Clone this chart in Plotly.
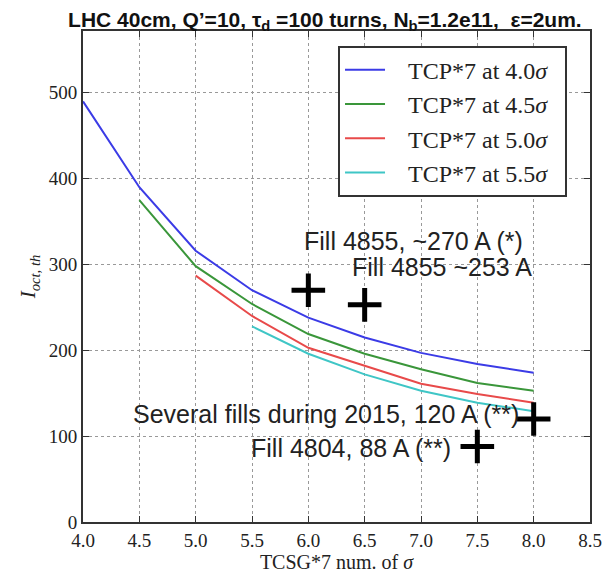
import plotly.graph_objects as go

# TCSG*7 opening (sigma) for each series
x_40 = [4.0, 4.5, 5.0, 5.5, 6.0, 6.5, 7.0, 7.5, 8.0]
y_40 = [490, 390, 316, 270, 238, 215, 197, 184, 174]
x_45 = [4.5, 5.0, 5.5, 6.0, 6.5, 7.0, 7.5, 8.0]
y_45 = [375, 298, 254, 219, 196, 178, 162, 153]
x_50 = [5.0, 5.5, 6.0, 6.5, 7.0, 7.5, 8.0]
y_50 = [287, 240, 203, 182, 161, 149, 139]
x_55 = [5.5, 6.0, 6.5, 7.0, 7.5, 8.0]
y_55 = [228, 196, 172, 153, 139, 129]

series_names = ["TCP*7 at 4.0<i>σ</i>", "TCP*7 at 4.5<i>σ</i>",
                "TCP*7 at 5.0<i>σ</i>", "TCP*7 at 5.5<i>σ</i>"]
series_colors = ["#3b3be6", "#3a963a", "#e84a4a", "#3fc6c6"]

# measured points
meas_x = [6.0, 6.5, 8.0, 7.5]
meas_y = [270, 253, 120, 88]

# annotation labels (text, right edge x, centre y)
ann_text = ["Fill 4855, ~270 A (*)", "Fill 4855 ~253 A",
            "Several fills during 2015, 120 A (**)", "Fill 4804, 88 A (**)"]
ann_x = [7.92, 8.0, 7.89, 7.28]
ann_y = [327, 297, 126, 86]

x_ticks = [4.0, 4.5, 5.0, 5.5, 6.0, 6.5, 7.0, 7.5, 8.0, 8.5]
y_ticks = [0, 100, 200, 300, 400, 500]

pad = "\u00a0\u00a0\u00a0"
fig = go.Figure()
for xs, ys, name, col in zip([x_40, x_45, x_50, x_55], [y_40, y_45, y_50, y_55],
                             series_names, series_colors):
    fig.add_trace(go.Scatter(x=xs, y=ys, mode="lines", name=pad + name + "\u00a0\u00a0",
                             line=dict(color=col, width=2)))

fig.add_trace(go.Scatter(x=meas_x, y=meas_y, mode="markers", showlegend=False,
                         marker=dict(symbol="cross-thin", size=24,
                                     line=dict(color="black", width=5))))

for t, ax_, ay_ in zip(ann_text, ann_x, ann_y):
    fig.add_annotation(x=ax_, y=ay_, text=t, showarrow=False, xanchor="right",
                       yanchor="middle",
                       font=dict(family="Liberation Sans, Arial", size=25, color="#222"))

axis_common = dict(showline=True, linecolor="#333", linewidth=2, mirror="allticks",
                   ticks="inside", ticklen=6, tickcolor="#333",
                   showgrid=True, gridcolor="#999", griddash="dot", gridwidth=1,
                   zeroline=False, automargin=False, ticklabeloverflow="allow",
                   tickfont=dict(family="Liberation Serif, Times New Roman", size=19, color="#222"))

fig.update_xaxes(range=[4.0, 8.5], tickvals=x_ticks,
                 ticktext=[f"{v:.1f}" for v in x_ticks],
                 title=dict(text="TCSG*7 num. of <i>σ</i>", standoff=2,
                            font=dict(family="Liberation Serif, Times New Roman", size=20, color="#222")),
                 **axis_common)
fig.update_yaxes(range=[0, 572], tickvals=y_ticks,
                 title=dict(text="<i>I</i><sub><i>oct, th</i></sub>", standoff=7,
                            font=dict(family="Liberation Serif, Times New Roman", size=21, color="#222")),
                 **axis_common)

fig.update_layout(
    width=605, height=578,
    margin=dict(l=83, r=15, t=31, b=56),
    plot_bgcolor="white", paper_bgcolor="white",
    title=dict(text="LHC 40cm, Q’=10, τ<sub>d</sub> =100 turns, N<sub>b</sub>=1.2e11,  ε=2um.",
               x=0.537, xanchor="center", y=0.966, yanchor="middle",
               font=dict(family="Liberation Sans, Arial", size=21, color="#111", weight="bold")),
    legend=dict(x=0.503, y=0.97, xanchor="left", yanchor="top",
                bgcolor="white", bordercolor="#333", borderwidth=2,
                font=dict(family="Liberation Serif, Times New Roman", size=24, color="#222"),
                tracegroupgap=0, itemwidth=40),
)

fig.write_html("out.html", config={"displayModeBar": False},
               post_script="document.body.style.margin='0';document.body.style.overflow='hidden';")
